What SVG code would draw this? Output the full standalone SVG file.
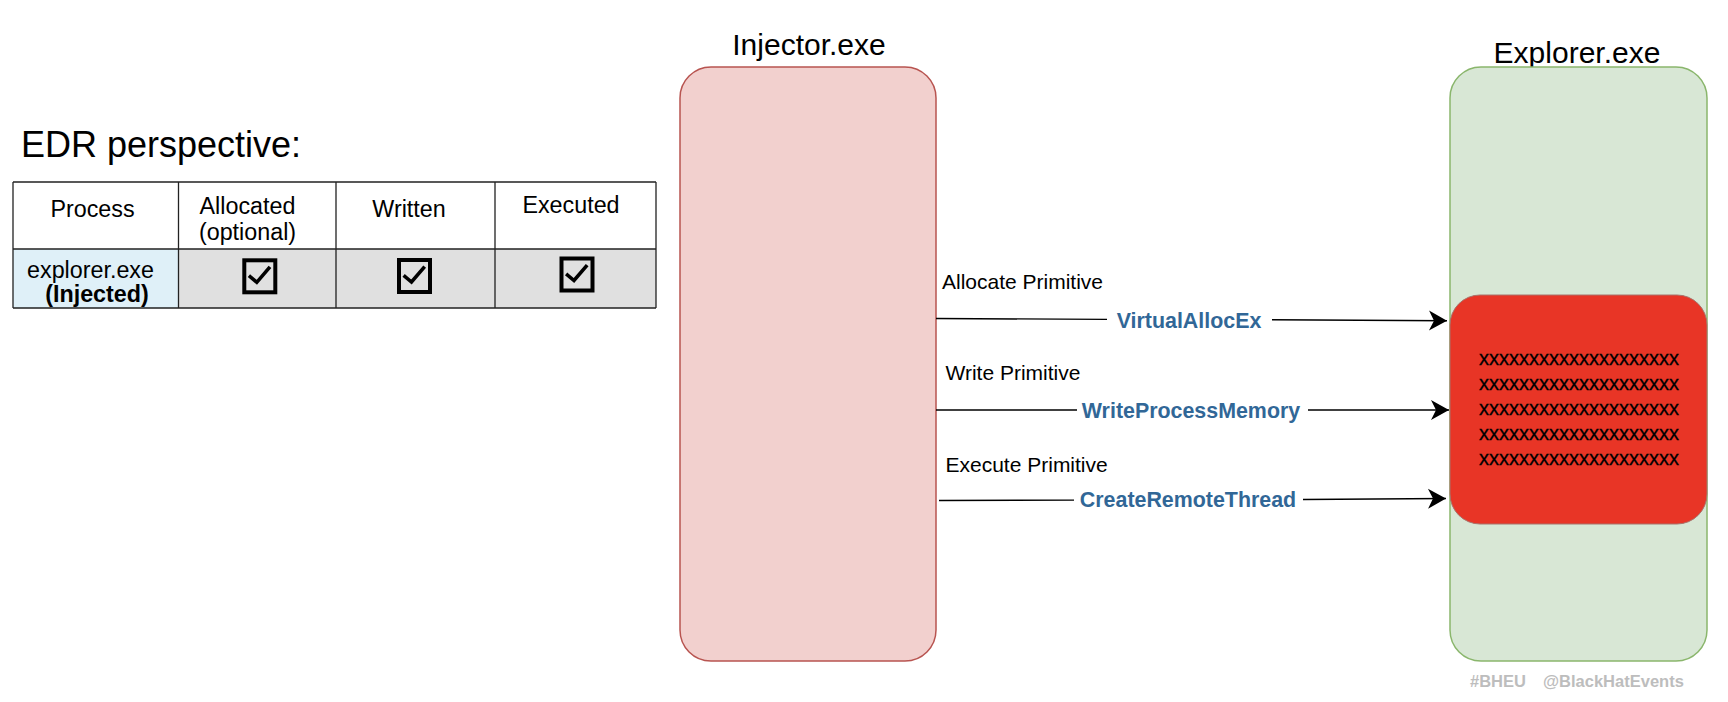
<svg xmlns="http://www.w3.org/2000/svg" width="1728" height="702" viewBox="0 0 1728 702">
<style>
text{font-family:"Liberation Sans",Arial,Helvetica,sans-serif;fill:#000}
.title{font-size:30px;text-anchor:middle}
.th{font-size:23.3px;text-anchor:middle}
.prim{font-size:21px}
.api{font-size:21.4px;font-weight:bold;fill:#316797;text-anchor:middle}
.xx{font-size:20px;text-anchor:middle;stroke:#000;stroke-width:0.3}
.grid{stroke:#222;stroke-width:1.3;fill:none}
.chk rect{fill:none;stroke:#000;stroke-width:4}
.chk path{fill:none;stroke:#000;stroke-width:3.6;stroke-linecap:square;stroke-linejoin:miter}
.conn line{stroke:#000;stroke-width:1.4}
.wm{font-size:16.5px;font-weight:bold;fill:#bdbdbd}
</style>
<defs>
<marker id="arr" markerUnits="userSpaceOnUse" markerWidth="20" markerHeight="22" viewBox="-19 -11 20 22" refX="0" refY="0" orient="auto">
<path d="M0,0 L-18,-10 L-13,0 L-18,10 Z" fill="#000"/>
</marker>
</defs>
<rect width="1728" height="702" fill="#fff"/>

<g id="edr-title">
<text x="21" y="157" style="font-size:36px">EDR perspective:</text>
</g>

<g id="edr-table">
<rect x="13" y="182" width="643" height="67" fill="#fff"/>
<rect x="13" y="249" width="165.5" height="59" fill="#dff0f8"/>
<rect x="178.5" y="249" width="477.5" height="59" fill="#e0e0e0"/>
<path class="grid" d="M13,182 H656 M13,249 H656 M13,308 H656 M13,182 V308 M178.5,182 V308 M336,182 V308 M495,182 V308 M656,182 V308"/>
<text class="th" x="92.5" y="217">Process</text>
<text class="th" x="247.5" y="214">Allocated</text>
<text class="th" x="247.5" y="240">(optional)</text>
<text class="th" x="409" y="217">Written</text>
<text class="th" x="571" y="213">Executed</text>
<text class="th" x="90.5" y="278">explorer.exe</text>
<text class="th" x="97" y="302" style="font-weight:bold">(Injected)</text>
<g class="chk" transform="translate(244.3,260.3)">
<rect x="0" y="0" width="31" height="32"/>
<path d="M6,16.5 L12.5,22 L24.5,8"/>
</g>
<g class="chk" transform="translate(399,260)">
<rect x="0" y="0" width="31" height="32"/>
<path d="M6,16.5 L12.5,22 L24.5,8"/>
</g>
<g class="chk" transform="translate(561.5,258.5)">
<rect x="0" y="0" width="31" height="32"/>
<path d="M6,16.5 L12.5,22 L24.5,8"/>
</g>
</g>

<g id="injector">
<text class="title" x="809" y="55">Injector.exe</text>
<rect x="680" y="67" width="256" height="594" rx="31" ry="31" fill="#f2d0ce" stroke="#b85450" stroke-width="1.5"/>
</g>

<g id="explorer">
<text class="title" x="1577" y="62.5">Explorer.exe</text>
<rect x="1450" y="67" width="257" height="594" rx="31" ry="31" fill="#d8e7d5" stroke="#8ab66c" stroke-width="1.5"/>
</g>

<g id="memory-region">
<rect x="1450" y="295" width="257" height="229" rx="30" ry="30" fill="#e83526" stroke="#a8736b" stroke-width="1"/>
<text class="xx" x="1579" y="365">xxxxxxxxxxxxxxxxxxxx</text>
<text class="xx" x="1579" y="390">xxxxxxxxxxxxxxxxxxxx</text>
<text class="xx" x="1579" y="415">xxxxxxxxxxxxxxxxxxxx</text>
<text class="xx" x="1579" y="440">xxxxxxxxxxxxxxxxxxxx</text>
<text class="xx" x="1579" y="465">xxxxxxxxxxxxxxxxxxxx</text>
</g>

<g id="connectors" class="conn">
<line x1="936" y1="318.5" x2="1107" y2="319.4"/>
<line x1="1272" y1="319.8" x2="1447" y2="320.7" marker-end="url(#arr)"/>
<line x1="936" y1="410" x2="1077" y2="410"/>
<line x1="1308" y1="410" x2="1449" y2="410" marker-end="url(#arr)"/>
<line x1="939" y1="500.5" x2="1074" y2="500.1"/>
<line x1="1303" y1="499.5" x2="1446" y2="498.5" marker-end="url(#arr)"/>
</g>

<g id="connector-labels">
<text class="prim" x="942" y="289">Allocate Primitive</text>
<text class="api" x="1189" y="327.5">VirtualAllocEx</text>
<text class="prim" x="945.5" y="380">Write Primitive</text>
<text class="api" x="1191" y="417.5">WriteProcessMemory</text>
<text class="prim" x="945.5" y="471.5">Execute Primitive</text>
<text class="api" x="1188" y="507">CreateRemoteThread</text>
</g>

<g id="watermark">
<text class="wm" x="1470" y="687">#BHEU</text>
<text class="wm" x="1543" y="687">@BlackHatEvents</text>
</g>
</svg>
